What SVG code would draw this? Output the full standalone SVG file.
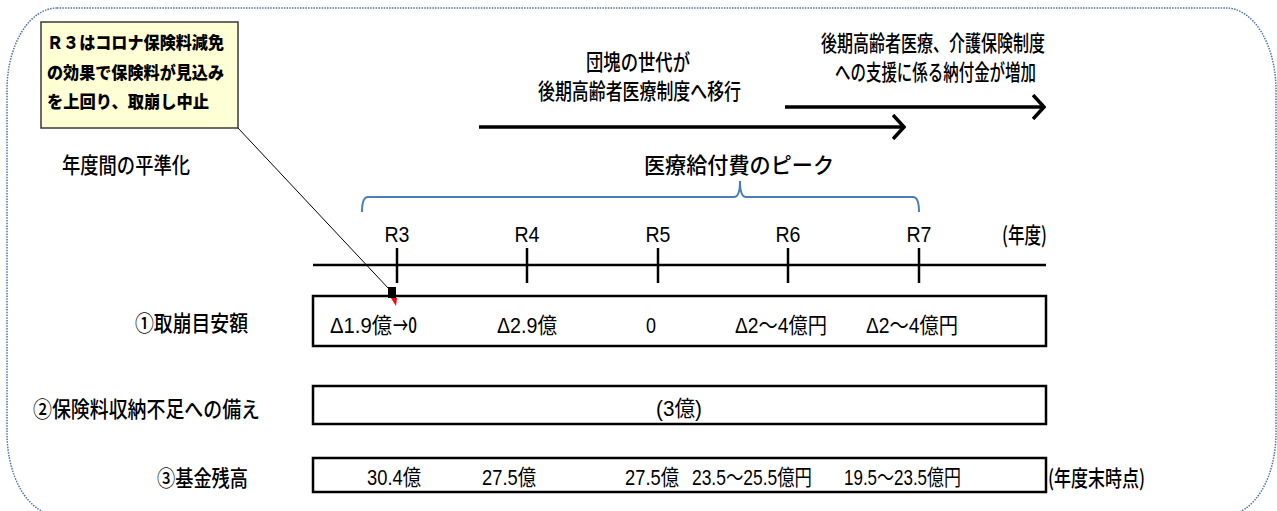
<svg xmlns="http://www.w3.org/2000/svg" width="1277" height="511" viewBox="0 0 1277 511">
<style>
.jp{font-family:"Noto Sans CJK JP","Noto Sans CJK SC",sans-serif;font-size:22px;font-weight:500;fill:#000}
.num{font-family:"Liberation Sans","Noto Sans CJK JP",sans-serif;font-size:22px;fill:#000}
.call{font-family:"Noto Sans CJK JP",sans-serif;font-size:17px;font-weight:900;fill:#000}
.box{fill:#fff;stroke:#000;stroke-width:2.5}
.tick{stroke:#000;stroke-width:2.5}
.arrow{stroke:#000;stroke-width:3.5;fill:none;marker-end:url(#chev)}
</style>
<defs>
<marker id="chev" viewBox="0 0 14 26" refX="12" refY="13" markerWidth="14" markerHeight="26" markerUnits="userSpaceOnUse" orient="auto">
<path d="M1,1 L12,13 L1,25" fill="none" stroke="#000" stroke-width="3.5"/>
</marker>
</defs>
<rect id="frame" x="7" y="8" width="1269" height="507" rx="50" ry="82" fill="none" stroke="#4f73a8" stroke-width="1.5" stroke-dasharray="1.5 1.2"/>

<g id="callout">
<rect x="41" y="22" width="197" height="106" fill="#ffffd5" stroke="#3a3a3a" stroke-width="1.5"/>
<text class="call" x="47" y="49" textLength="177" lengthAdjust="spacingAndGlyphs">Ｒ３はコロナ保険料減免</text>
<text class="call" x="47" y="79" textLength="177" lengthAdjust="spacingAndGlyphs">の効果で保険料が見込み</text>
<text class="call" x="47" y="108" textLength="162" lengthAdjust="spacingAndGlyphs">を上回り、取崩し中止</text>
</g>

<g id="note-baby-boomers">
<text class="jp" x="586" y="70" textLength="104" lengthAdjust="spacingAndGlyphs">団塊の世代が</text>
<text class="jp" x="538" y="99" textLength="203" lengthAdjust="spacingAndGlyphs">後期高齢者医療制度へ移行</text>
</g>
<g id="note-support">
<text class="jp" x="821" y="51" textLength="224" lengthAdjust="spacingAndGlyphs">後期高齢者医療、介護保険制度</text>
<text class="jp" x="835" y="80" textLength="201" lengthAdjust="spacingAndGlyphs">への支援に係る納付金が増加</text>
</g>

<g id="label-smoothing">
<text class="jp" x="62" y="173" textLength="128" lengthAdjust="spacingAndGlyphs">年度間の平準化</text>
</g>

<g id="peak">
<text class="jp" x="644" y="173" textLength="190" lengthAdjust="spacingAndGlyphs">医療給付費のピーク</text>
<path d="M362,212 Q362,197 368,197 H734 Q740,197 740,181 Q740,197 746,197 H913 Q919,197 919,212" fill="none" stroke="#4a7ebb" stroke-width="2"/>
</g>

<g id="timeline">
<line x1="313" y1="265" x2="1046" y2="265" stroke="#000" stroke-width="2.5"/>
<line class="tick" x1="397" y1="248" x2="397" y2="283"/>
<line class="tick" x1="527" y1="248" x2="527" y2="283"/>
<line class="tick" x1="658" y1="248" x2="658" y2="283"/>
<line class="tick" x1="788" y1="248" x2="788" y2="283"/>
<line class="tick" x1="919" y1="248" x2="919" y2="283"/>
<text class="num" x="397" y="242" text-anchor="middle" textLength="25" lengthAdjust="spacingAndGlyphs">R3</text>
<text class="num" x="527" y="242" text-anchor="middle" textLength="25" lengthAdjust="spacingAndGlyphs">R4</text>
<text class="num" x="658" y="242" text-anchor="middle" textLength="25" lengthAdjust="spacingAndGlyphs">R5</text>
<text class="num" x="788" y="242" text-anchor="middle" textLength="25" lengthAdjust="spacingAndGlyphs">R6</text>
<text class="num" x="919" y="242" text-anchor="middle" textLength="25" lengthAdjust="spacingAndGlyphs">R7</text>
<text class="jp" x="1002" y="243" font-size="19" textLength="45" lengthAdjust="spacingAndGlyphs">(年度)</text>
</g>

<g id="row1">
<text class="jp" x="135" y="331" textLength="113" lengthAdjust="spacingAndGlyphs">①取崩目安額</text>
<rect class="box" x="313" y="296" width="733" height="50"/>
<text class="num" x="330" y="333" textLength="62" lengthAdjust="spacingAndGlyphs">Δ1.9億</text>
<text class="jp" x="393" y="333" textLength="24" lengthAdjust="spacingAndGlyphs">→0</text>
<text class="num" x="497" y="333" textLength="60" lengthAdjust="spacingAndGlyphs">Δ2.9億</text>
<text class="num" x="646" y="333" textLength="10" lengthAdjust="spacingAndGlyphs">0</text>
<text class="num" x="735" y="333" textLength="92" lengthAdjust="spacingAndGlyphs">Δ2～4億円</text>
<text class="num" x="866" y="333" textLength="92" lengthAdjust="spacingAndGlyphs">Δ2～4億円</text>
</g>

<g id="row2">
<text class="jp" x="33" y="417" textLength="227" lengthAdjust="spacingAndGlyphs">②保険料収納不足への備え</text>
<rect class="box" x="313" y="386" width="733" height="38"/>
<text class="num" x="656" y="416" textLength="46" lengthAdjust="spacingAndGlyphs">(3億)</text>
</g>

<g id="row3">
<text class="jp" x="157" y="486" textLength="91" lengthAdjust="spacingAndGlyphs">③基金残高</text>
<rect class="box" x="313" y="458" width="733" height="34"/>
<text class="num" x="367" y="485" textLength="54" lengthAdjust="spacingAndGlyphs">30.4億</text>
<text class="num" x="482" y="485" textLength="54" lengthAdjust="spacingAndGlyphs">27.5億</text>
<text class="num" x="625" y="485" textLength="54" lengthAdjust="spacingAndGlyphs">27.5億</text>
<text class="num" x="692" y="485" textLength="120" lengthAdjust="spacingAndGlyphs">23.5～25.5億円</text>
<text class="num" x="844" y="485" textLength="117" lengthAdjust="spacingAndGlyphs">19.5～23.5億円</text>
<text class="jp" x="1048" y="486" font-size="18" textLength="97" lengthAdjust="spacingAndGlyphs">(年度末時点)</text>
</g>

<g id="connectors">
<line class="arrow" x1="479" y1="127" x2="904" y2="127"/>
<line class="arrow" x1="785" y1="107" x2="1044" y2="107"/>
<line x1="238" y1="128" x2="389" y2="289" stroke="#000" stroke-width="1"/>
<rect x="388" y="287" width="8" height="11" fill="#000"/>
<polygon points="391,298 397,298 396,306" fill="#ff0000"/>
</g>
</svg>
